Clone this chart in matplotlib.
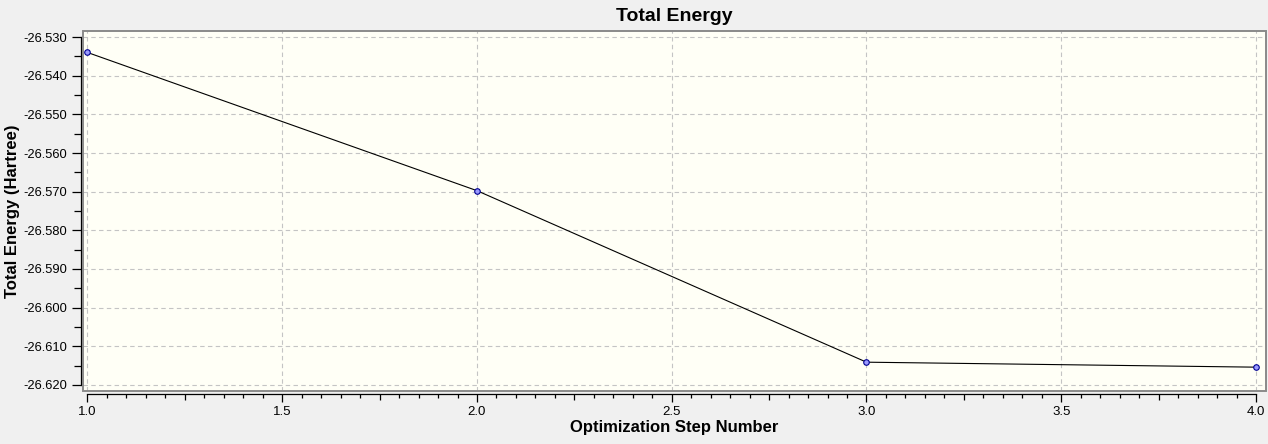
import matplotlib
matplotlib.use("Agg")
import matplotlib.pyplot as plt
from matplotlib.ticker import MultipleLocator, FixedLocator, FormatStrFormatter
from matplotlib.patches import Rectangle

steps = [1, 2, 3, 4]
energy = [-26.53396, -26.56974, -26.61414, -26.61543]
title = "Total Energy"
xlabel = "Optimization Step Number"
ylabel = "Total Energy (Hartree)"

plt.rcParams['font.family'] = ['Liberation Sans', 'DejaVu Sans']

W, H = 1268, 444
fig = plt.figure(figsize=(W / 100, H / 100), dpi=100, facecolor='#f0f0f0')
L, R, T, B = 82.7, 1266, 31, 391
ax = fig.add_axes([L / W, (H - B) / H, (R - L) / W, (B - T) / H])
ax.set_facecolor('#fffff6')
ax.set_xlim(0.9877, 4.0257)
ax.set_ylim(-26.6216, -26.5284)

# gray frame
ax.add_patch(Rectangle((0, 0), 1, 1, transform=ax.transAxes, fill=False,
                       edgecolor='#8a8a8a', linewidth=1.4, clip_on=False, zorder=5))

for s in ['top', 'right']:
    ax.spines[s].set_visible(False)
ax.spines['left'].set_position(('outward', 1.5))
ax.spines['bottom'].set_position(('outward', 2.4))
ax.spines['left'].set_bounds(-26.620, -26.530)
ax.spines['bottom'].set_bounds(1.0, 4.0)
for s in ['left', 'bottom']:
    ax.spines[s].set_color('black')
    ax.spines[s].set_linewidth(0.9)

ax.xaxis.set_major_locator(MultipleLocator(0.5))
ax.xaxis.set_major_formatter(FormatStrFormatter('%.1f'))
minors = [1.0 + 0.05 * i for i in range(61) if i % 10 != 0]
ax.xaxis.set_minor_locator(FixedLocator(minors))
ax.yaxis.set_major_locator(MultipleLocator(0.01))
ax.yaxis.set_major_formatter(FormatStrFormatter('%.3f'))
ax.yaxis.set_minor_locator(MultipleLocator(0.005))

ax.tick_params(axis='x', which='major', length=5.5, width=0.9, pad=3, labelsize=9.5)
ax.tick_params(axis='x', which='minor', length=3, width=0.9)
ax.tick_params(axis='y', which='major', length=6.5, width=0.9, pad=3, labelsize=9.3)
ax.tick_params(axis='y', which='minor', length=4.8, width=0.9)

fig.canvas.draw()
for t, v in zip(ax.xaxis.get_minor_ticks(), minors):
    if abs((v - 1.0) / 0.25 - round((v - 1.0) / 0.25)) < 1e-6:
        t.tick1line.set_markersize(4.3)

ax.grid(True, which='major', color='#c4c4c4', linestyle=(0, (4, 3)), linewidth=0.8)
ax.set_axisbelow(True)

ax.plot(steps, energy, color='black', linewidth=0.8, marker='o', markersize=4,
        markerfacecolor='#9a9aff', markeredgecolor='#000090', markeredgewidth=0.8,
        zorder=3, clip_on=False)

ax.set_title(title, fontsize=14, fontweight='bold', pad=7)
ax.set_xlabel(xlabel, fontsize=12, fontweight='bold')
ax.set_ylabel(ylabel, fontsize=12, fontweight='bold')
ax.yaxis.set_label_coords((12.5 - L) / (R - L), 0.5)
ax.xaxis.set_label_coords(0.5, -(427 - B) / (B - T))
ax.xaxis.label.set_va('center')
ax.yaxis.label.set_va('center')

fig.savefig('out.png', dpi=100, facecolor=fig.get_facecolor())
